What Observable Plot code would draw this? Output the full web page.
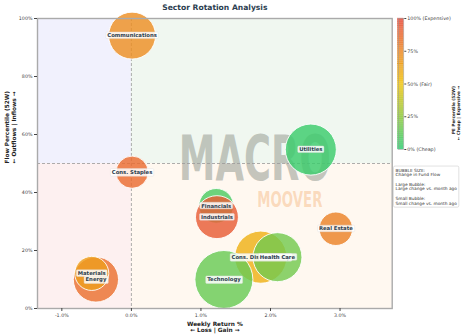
<!DOCTYPE html>
<html>
<head>
<meta charset="utf-8">
<script src="https://cdn.jsdelivr.net/npm/d3@7"></script>
<script src="https://cdn.jsdelivr.net/npm/@observablehq/plot@0.6"></script>
<style>
html,body{margin:0;padding:0;background:#ffffff;}
#wrap{position:relative;width:465px;height:336px;overflow:hidden;}
#wrap > svg{position:absolute;left:0;top:0;}
</style>
</head>
<body>
<div id="wrap"></div>
<script>
// ---------------- data ----------------
const sectors      = ["Cons. Discretionary","Technology","Health Care","Financials","Industrials","Energy","Materials","Cons. Staples","Utilities","Real Estate","Communications"];
const weeklyReturn = [1.86, 1.33, 2.10, 1.22, 1.23, -0.51, -0.57, 0.01, 2.58, 2.94, 0.01];
const flowPct      = [17.7, 10.0, 17.7, 35.4, 31.5, 10.0, 12.1, 47.0, 54.8, 27.5, 94.1];
const pePct        = [58, 15, 18, 8, 93, 85, 66, 87, 3, 77, 72];
const flowChange   = [6.8, 8.4, 6.0, 3.0, 4.6, 5.1, 2.9, 2.6, 6.5, 2.8, 5.5];

const xTicks = [-1, 0, 1, 2, 3];
const yTicks = [0, 20, 40, 60, 80, 100];
const peTicks = [0, 25, 50, 75, 100];
const peTickLabels = ["0% (Cheap)", "25%", "50% (Fair)", "75%", "100% (Expensive)"];
const xDomain = [-1.35, 3.75];
const yDomain = [0, 100];
const xSplit = 0, ySplit = 50;

const titleText = "Sector Rotation Analysis";
const xLabel = "Weekly Return %\n← Loss | Gain →";
const yLabel = "Flow Percentile (52W)\n← Outflows | Inflows →";
const cbLabel = "PE Percentile (52W)\n← Cheap | Expensive →";
const legendText = "BUBBLE SIZE:\nChange in Fund Flow\n\nLarge Bubble:\nLarge change vs. month ago\n\nSmall Bubble:\nSmall change vs. month ago";
const watermark = ["MACRO", "MOOVER"];

// ---------------- build ----------------
const data = sectors.map((s, i) => ({sector: s, ret: weeklyReturn[i], flow: flowPct[i], pe: pePct[i], size: flowChange[i]}));
const quads = [
  {x1: xDomain[0], x2: xSplit, y1: ySplit, y2: yDomain[1], fill: "#f1f1fd"},
  {x1: xSplit, x2: xDomain[1], y1: ySplit, y2: yDomain[1], fill: "#f0f7f0"},
  {x1: xDomain[0], x2: xSplit, y1: yDomain[0], y2: ySplit, fill: "#fdf0f0"},
  {x1: xSplit, x2: xDomain[1], y1: yDomain[0], y2: ySplit, fill: "#fff8f0"}
];

const W = 465, H = 336;
const colorScale = {type: "linear", domain: [0, 50, 100], range: ["#2ecc71", "#f1c40f", "#e74c3c"]};
const ink = "#2c3e50";
const font = "DejaVu Sans";

const main = Plot.plot({
  width: W, height: H,
  marginLeft: 37, marginRight: 73.3, marginTop: 18, marginBottom: 28,
  style: {fontFamily: font, background: "transparent", color: "#333"},
  x: {domain: xDomain},
  y: {domain: yDomain},
  color: colorScale,
  r: {type: "sqrt", domain: [0, 8.4], range: [0, 29]},
  marks: [
    ...quads.map(q => Plot.rect([q], {x1: "x1", x2: "x2", y1: "y1", y2: "y2", fill: q.fill})),
    Plot.text([watermark[0]], {text: d => d, frameAnchor: "middle", dx: 40, dy: -3, lineAnchor: "middle",
      fontSize: 62, fontWeight: "bold", fill: "#9ea39a", fillOpacity: 0.6, ariaDescription: "wm-macro"}),
    Plot.text([watermark[1]], {text: d => d, frameAnchor: "middle", dx: 75, dy: 36.5, lineAnchor: "middle",
      fontSize: 20.5, fontWeight: "bold", fill: "#f3a968", fillOpacity: 0.38, ariaDescription: "wm-moover"}),
    Plot.ruleX([xSplit], {stroke: "#999", strokeWidth: 0.8, strokeDasharray: "3,2"}),
    Plot.ruleY([ySplit], {stroke: "#999", strokeWidth: 0.8, strokeDasharray: "3,2"}),
    Plot.dot(data, {x: "ret", y: "flow", r: "size", fill: "pe", fillOpacity: 0.82, stroke: "white", strokeWidth: 0.9, sort: null}),
    Plot.text(data, {x: "ret", y: "flow", text: "sector", fontSize: 5.3, fontWeight: "bold", fill: ink, ariaDescription: "sector-labels"}),
    Plot.frame({stroke: "#aaaaaa", strokeWidth: 1.4}),
    Plot.axisX({ticks: xTicks, tickFormat: d => d.toFixed(1) + "%", tickSize: 3, tickPadding: 2, fontSize: 4.8, label: null, color: "#444"}),
    Plot.axisY({ticks: yTicks, tickFormat: d => d + "%", tickSize: 3, tickPadding: 2, fontSize: 4.8, label: null, color: "#444"}),
    Plot.text([titleText], {text: d => d, frameAnchor: "top", dy: -11.3, lineAnchor: "middle", fontSize: 7.6, fontWeight: "bold", fill: ink}),
    Plot.text([xLabel], {text: d => d, frameAnchor: "bottom", dy: 18.2, lineAnchor: "middle", lineHeight: 1.09, fontSize: 5.8, fontWeight: "bold", fill: "#222"}),
    Plot.text([yLabel], {text: d => d, frameAnchor: "left", dx: -27, rotate: -90, lineAnchor: "middle", lineHeight: 1.09, fontSize: 5.8, fontWeight: "bold", fill: "#222"})
  ]
});

const cb = Plot.plot({
  width: W, height: H,
  marginLeft: 397.7, marginRight: 61.7, marginTop: 18, marginBottom: 187,
  style: {fontFamily: font, background: "transparent", color: "#333"},
  x: {domain: [0, 1], axis: null},
  y: {domain: [0, 100], axis: null},
  color: colorScale,
  marks: [
    Plot.rect(d3.range(200), {x1: () => 0, x2: () => 1, y1: i => i / 2, y2: i => i / 2 + 0.5,
      fill: i => i / 2 + 0.25, stroke: i => i / 2 + 0.25, strokeWidth: 0.3, fillOpacity: 0.78, strokeOpacity: 0.78}),
    Plot.frame({stroke: "#999", strokeWidth: 0.5}),
    Plot.axisY({anchor: "right", ticks: peTicks, tickFormat: d => peTickLabels[peTicks.indexOf(d)], tickSize: 2, tickPadding: 1.5, fontSize: 4.8, label: null, color: "#444"}),
    Plot.text([cbLabel], {text: d => d, frameAnchor: "right", dx: 52, dy: 2, rotate: -90, lineAnchor: "middle", lineHeight: 1.05, fontSize: 4.3, fontWeight: "bold", fill: "#222"}),
    Plot.text([legendText], {text: d => d, frameAnchor: "bottom-left", dx: -2.7, dy: 37.1, textAnchor: "start", lineAnchor: "middle", lineHeight: 1.1, fontSize: 4.3, fill: "#333", ariaDescription: "size-legend"})
  ]
});

const wrap = document.getElementById("wrap");
wrap.append(main);
wrap.append(cb);

// watermark widths
function squeeze(sel, len) {
  d3.select(main).selectAll(sel).attr("textLength", len).attr("lengthAdjust", "spacingAndGlyphs");
}
squeeze('g[aria-description="wm-macro"] text', 152);
squeeze('g[aria-description="wm-moover"] text', 65);

// white boxes behind sector labels
d3.select(main).selectAll('g[aria-description="sector-labels"] text').each(function () {
  const b = this.getBBox();
  const r = document.createElementNS("http://www.w3.org/2000/svg", "rect");
  r.setAttribute("x", b.x - 1.4);
  r.setAttribute("y", b.y - 0.3);
  r.setAttribute("width", b.width + 2.8);
  r.setAttribute("height", b.height + 0.6);
  r.setAttribute("rx", 1);
  r.setAttribute("fill", "white");
  r.setAttribute("fill-opacity", 0.85);
  r.setAttribute("stroke", "#dddddd");
  r.setAttribute("stroke-width", 0.4);
  const t = this.getAttribute("transform");
  if (t) r.setAttribute("transform", t);
  this.parentNode.insertBefore(r, this);
});

// box around size legend
d3.select(cb).selectAll('g[aria-description="size-legend"] text').each(function () {
  const b = this.getBBox();
  const r = document.createElementNS("http://www.w3.org/2000/svg", "rect");
  r.setAttribute("x", b.x - 2);
  r.setAttribute("y", b.y - 1.5);
  r.setAttribute("width", b.width + 3.5);
  r.setAttribute("height", b.height + 3);
  r.setAttribute("rx", 1.5);
  r.setAttribute("fill", "white");
  r.setAttribute("stroke", "#cccccc");
  r.setAttribute("stroke-width", 0.6);
  const t = this.getAttribute("transform");
  if (t) r.setAttribute("transform", t);
  this.parentNode.insertBefore(r, this);
});
</script>
</body>
</html>
